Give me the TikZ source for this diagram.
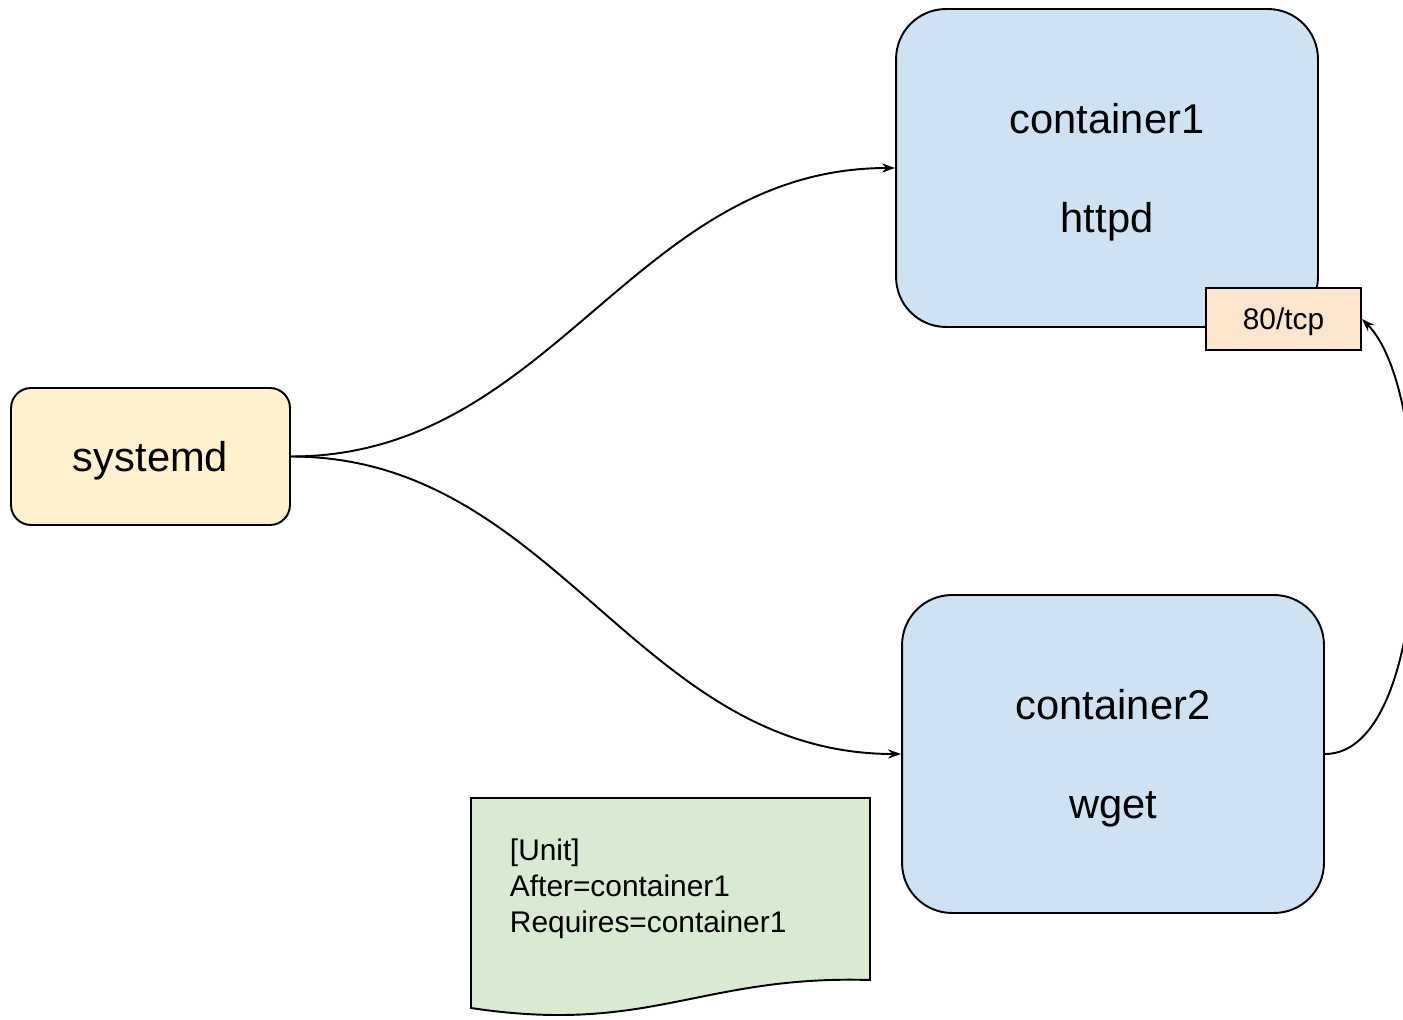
\documentclass[tikz,border=0pt]{standalone}
\usepackage{fontspec}
\setmainfont{Liberation Sans}
\usetikzlibrary{arrows.meta}
\definecolor{unitfill}{HTML}{FFF2CC}
\definecolor{ctrfill}{HTML}{CFE2F3}
\definecolor{portfill}{HTML}{FCE5CD}
\definecolor{notefill}{HTML}{D9EAD3}
\begin{document}
\begin{tikzpicture}[x=0.02cm, y=-0.02cm, line width=1.1pt, >={Stealth[length=2.6mm,width=1.8mm]},
        unit/.style = {draw, fill=unitfill, rounded corners=0.4cm, minimum width=5.58cm, minimum height=2.74cm, inner sep=0pt, text depth=0pt, font=\fontsize{23.7}{28}\selectfont},
        ctr/.style = {draw, fill=ctrfill, rounded corners=1cm, minimum width=8.44cm, minimum height=6.36cm, inner sep=0pt, text depth=0pt, align=center, font=\fontsize{23.7}{56}\selectfont},
        port/.style = {draw, fill=portfill, minimum width=3.1cm, minimum height=1.24cm, inner sep=0pt, text depth=0pt, font=\fontsize{17}{20}\selectfont}]
        \useasboundingbox (0,0) rectangle (1403,1020);

        \node[unit] (systemd) at (150.5,456.5) {systemd};
        \node[ctr] (c1) at (1107,168) {container1\\httpd};
        \node[ctr] (c2) at (1113,754) {container2\\wget};
        \node[port] (port) at (1283.5,319) {80/tcp};

        % unit file
        \draw[fill=notefill] (471,798) -- (870,798) -- (870,980) .. controls (700,975) and (650,1035) .. (471,1008) -- cycle;
        \node[anchor=west, inner sep=0pt, align=left, font=\fontsize{17}{20.5}\selectfont] (unitfile) at (509,889) {[Unit]\\After=container1\\Requires=container1};

        \draw[->] (systemd.east) to[out=0, in=180] (c1.west);
        \draw[->] (systemd.east) to[out=0, in=180] (c2.west);
        \draw[->] (c2.east) .. controls +(110,0) and +(75,75) .. (port.east);
    \end{tikzpicture}
\end{document}
